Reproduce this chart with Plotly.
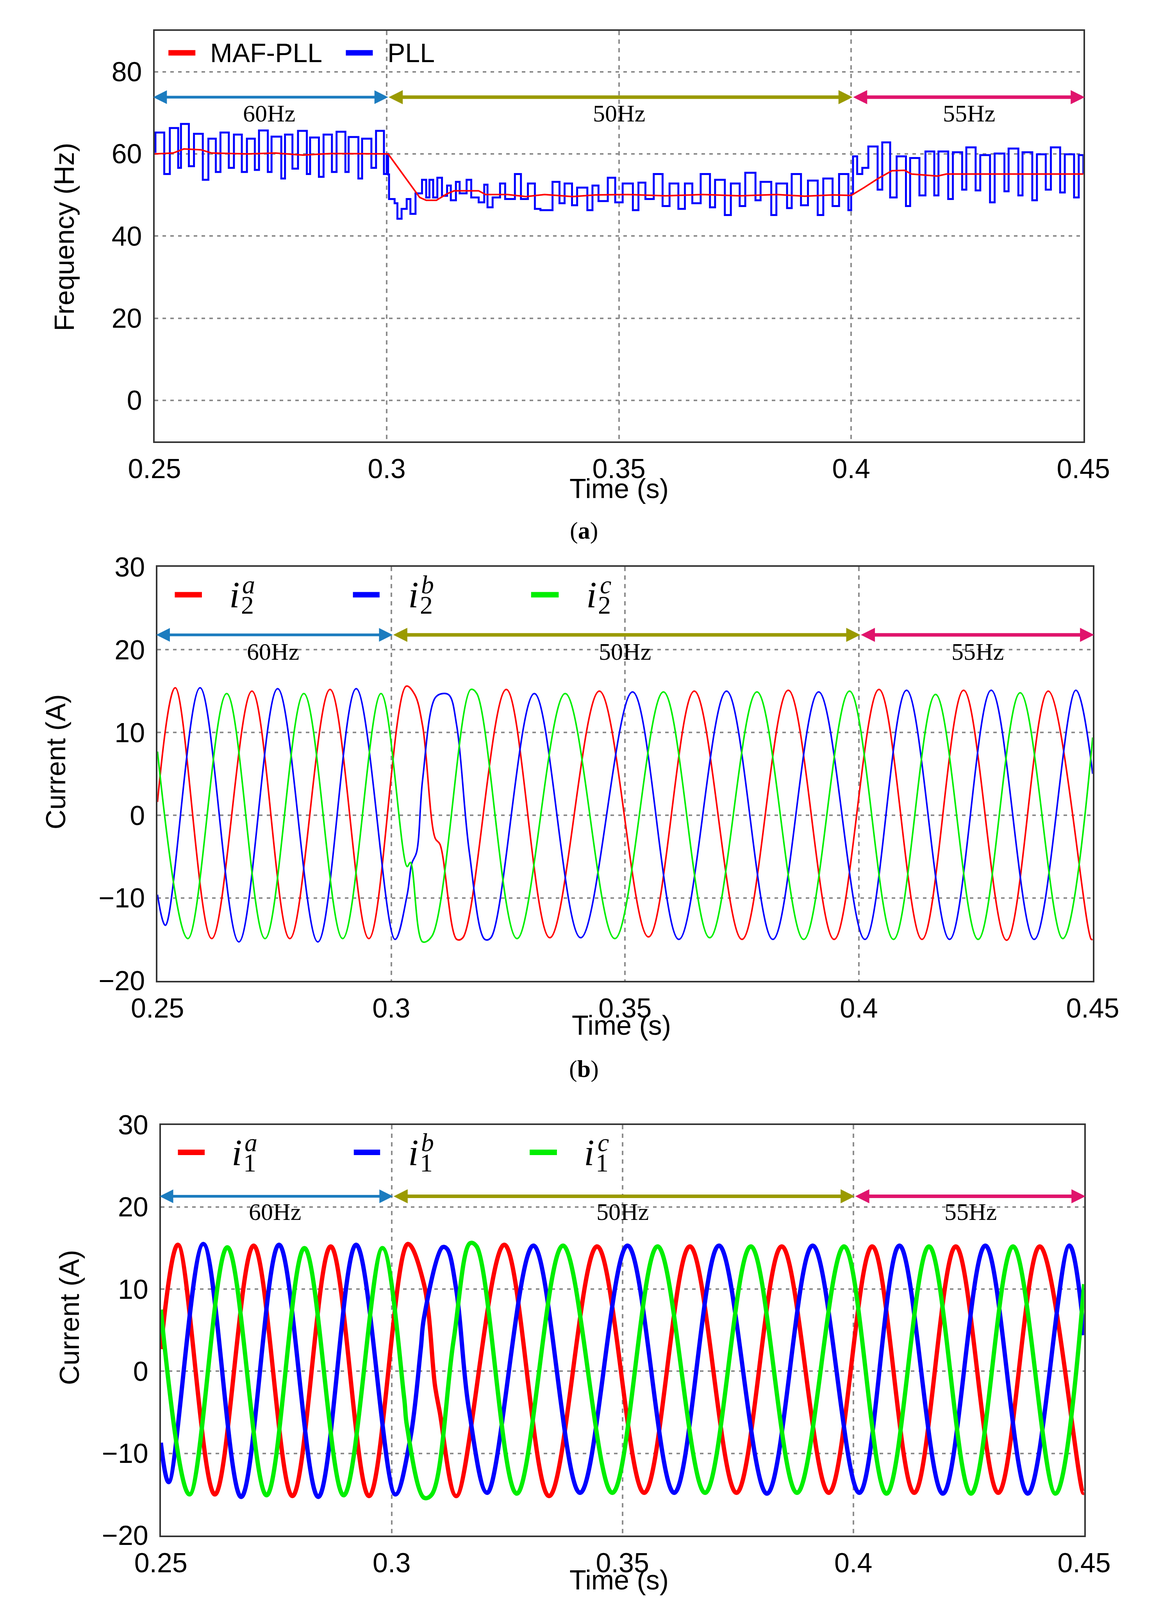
import plotly.graph_objects as go

W, H = 2952, 5688

# ---------------- data ----------------
# (a) frequency estimates
freq_t_maf = [0.2500, 0.2540, 0.2563, 0.2600, 0.2623, 0.2700, 0.2760, 0.2820, 0.2880, 0.2950,
              0.3003, 0.3071, 0.3085, 0.3107, 0.3130, 0.3145, 0.3198, 0.3213, 0.3260, 0.3300,
              0.3340, 0.3400, 0.3450, 0.3520, 0.3600, 0.3680, 0.3760, 0.3840, 0.3900, 0.3960,
              0.4000, 0.4028, 0.4058, 0.4088, 0.4115, 0.4130, 0.4171, 0.4186, 0.4205, 0.4500]
freq_maf = [60.0, 60.2, 61.2, 61.0, 60.2, 60.0, 60.2, 59.7, 60.1, 60.0,
            60.0, 49.4, 48.7, 48.7, 50.3, 51.0, 51.0, 50.1, 50.1, 49.6,
            50.1, 49.6, 50.0, 50.1, 49.8, 50.1, 49.8, 50.1, 49.7, 50.0,
            49.9, 51.8, 54.0, 55.9, 56.0, 55.1, 54.8, 54.6, 55.1, 55.1]

freq_t_pll = [0.2500, 0.2502, 0.2521, 0.2533, 0.2551, 0.2557, 0.2574, 0.2585, 0.2604, 0.2616,
              0.2632, 0.2642, 0.2660, 0.2671, 0.2688, 0.2699, 0.2716, 0.2725, 0.2744, 0.2752,
              0.2773, 0.2781, 0.2797, 0.2809, 0.2828, 0.2835, 0.2854, 0.2864, 0.2882, 0.2892,
              0.2911, 0.2918, 0.2939, 0.2947, 0.2967, 0.2977, 0.2994, 0.3000, 0.3003, 0.3005,
              0.3017, 0.3023, 0.3032, 0.3043, 0.3051, 0.3062, 0.3076, 0.3085, 0.3092, 0.3100,
              0.3109, 0.3119, 0.3130, 0.3138, 0.3149, 0.3157, 0.3172, 0.3182, 0.3198, 0.3210,
              0.3217, 0.3228, 0.3244, 0.3255, 0.3276, 0.3289, 0.3304, 0.3319, 0.3331, 0.3357,
              0.3372, 0.3383, 0.3399, 0.3410, 0.3432, 0.3443, 0.3456, 0.3476, 0.3492, 0.3508,
              0.3530, 0.3542, 0.3557, 0.3575, 0.3594, 0.3609, 0.3628, 0.3642, 0.3658, 0.3676,
              0.3696, 0.3707, 0.3728, 0.3741, 0.3760, 0.3772, 0.3794, 0.3805, 0.3828, 0.3839,
              0.3862, 0.3872, 0.3892, 0.3907, 0.3928, 0.3940, 0.3960, 0.3974, 0.3994, 0.4000,
              0.4004, 0.4013, 0.4024, 0.4037, 0.4057, 0.4067, 0.4084, 0.4098, 0.4118, 0.4127,
              0.4147, 0.4160, 0.4179, 0.4188, 0.4209, 0.4219, 0.4239, 0.4248, 0.4268, 0.4278,
              0.4299, 0.4309, 0.4330, 0.4339, 0.4360, 0.4369, 0.4390, 0.4400, 0.4419, 0.4430,
              0.4450, 0.4460, 0.4480, 0.4490, 0.4500]
freq_pll = [60.5, 65.2, 55.1, 66.3, 56.6, 67.3, 57.0, 64.9, 53.7, 63.7,
            55.6, 65.2, 56.6, 64.7, 55.6, 63.7, 56.1, 65.7, 55.6, 64.2,
            54.0, 64.7, 56.4, 65.6, 55.1, 64.0, 54.4, 64.7, 55.6, 65.4,
            55.6, 64.1, 54.0, 63.7, 56.6, 65.6, 55.1, 60.0, 55.0, 49.0,
            48.0, 44.2, 46.6, 49.0, 45.4, 50.4, 53.7, 49.4, 53.7, 49.4,
            54.2, 49.8, 52.3, 48.7, 53.2, 50.4, 53.7, 49.4, 48.2, 52.5,
            47.0, 49.4, 52.8, 49.0, 55.1, 49.0, 52.8, 46.6, 46.3, 53.2,
            48.0, 52.8, 47.5, 51.8, 46.3, 52.3, 48.5, 54.2, 48.2, 52.8,
            46.3, 53.0, 49.0, 55.1, 47.3, 52.8, 46.6, 52.8, 48.0, 55.1,
            47.0, 53.7, 45.1, 52.8, 47.3, 55.4, 48.7, 53.2, 45.1, 52.8,
            46.8, 55.1, 47.5, 53.5, 45.1, 54.0, 47.3, 55.1, 46.3, 50.4,
            59.4, 55.1, 56.6, 61.8, 51.3, 62.8, 49.4, 59.4, 47.3, 59.0,
            49.9, 60.6, 49.9, 60.6, 49.0, 60.4, 51.3, 61.6, 51.1, 59.7,
            48.2, 60.1, 50.9, 61.3, 49.9, 60.4, 48.7, 59.9, 51.3, 61.6,
            50.6, 59.9, 49.4, 59.7, 55.1]

# (b) grid-side currents i2 (extrema and bends)
i2a_t = [0.2500, 0.2538, 0.2616, 0.2702, 0.2783, 0.2869, 0.2952, 0.3032, 0.3050, 0.3067,
         0.3094, 0.3104, 0.3140, 0.3153, 0.3246, 0.3339, 0.3445, 0.3550, 0.3648, 0.3750,
         0.3849, 0.3947, 0.4043, 0.4135, 0.4224, 0.4316, 0.4405, 0.4497, 0.4500]
i2a = [1.6, 15.4, -14.9, 15.0, -14.9, 15.2, -14.9, 15.6, 14.6, 10.8,
       -2.8, -3.5, -15.0, -14.8, 15.2, -14.8, 15.0, -14.7, 15.0, -15.0,
       15.1, -15.0, 15.2, -15.0, 15.1, -15.1, 15.0, -15.0, -15.0]
i2b_t = [0.2500, 0.2517, 0.2591, 0.2674, 0.2757, 0.2843, 0.2925, 0.3008, 0.3034, 0.3044,
         0.3054, 0.3067, 0.3094, 0.3110, 0.3124, 0.3140, 0.3167, 0.3200, 0.3213, 0.3306,
         0.3405, 0.3516, 0.3615, 0.3717, 0.3816, 0.3914, 0.4013, 0.4102, 0.4194, 0.4283,
         0.4375, 0.4464, 0.4500]
i2b = [-9.6, -13.3, 15.4, -15.3, 15.3, -15.3, 15.3, -15.0, -9.6, -5.8,
       -4.5, 4.3, 14.2, 14.7, 14.5, 10.8, -4.5, -15.0, -14.8, 14.7,
       -14.8, 14.9, -15.0, 15.0, -15.0, 14.9, -15.0, 15.1, -15.0, 15.1,
       -15.0, 15.1, 5.0]
i2c_t = [0.2500, 0.2565, 0.2648, 0.2730, 0.2813, 0.2896, 0.2978, 0.3034, 0.3041, 0.3067,
         0.3087, 0.3170, 0.3183, 0.3269, 0.3372, 0.3478, 0.3582, 0.3681, 0.3782, 0.3882,
         0.3980, 0.4074, 0.4164, 0.4255, 0.4345, 0.4436, 0.4500]
i2c = [7.7, -14.9, 14.7, -14.9, 14.7, -14.9, 14.7, -6.2, -5.7, -15.3,
       -14.6, 15.2, 14.7, -14.9, 14.7, -14.9, 14.9, -14.8, 14.9, -15.0,
       15.0, -15.0, 14.6, -15.0, 14.8, -14.9, 9.4]

# (c) inverter-side currents i1
i1a_t = [0.2500, 0.2537, 0.2617, 0.2701, 0.2785, 0.2868, 0.2951, 0.3035, 0.3070, 0.3094,
         0.3104, 0.3140, 0.3244, 0.3341, 0.3445, 0.3547, 0.3646, 0.3747, 0.3845, 0.3947,
         0.4041, 0.4132, 0.4222, 0.4314, 0.4404, 0.4498, 0.4500]
i1a = [2.7, 15.4, -15.0, 15.3, -15.2, 15.2, -15.2, 15.5, 10.6, -1.8,
       -4.9, -15.2, 15.4, -15.2, 15.2, -14.8, 15.2, -14.8, 15.2, -14.8,
       15.2, -14.8, 15.2, -14.8, 15.2, -14.8, -14.8]
i1b_t = [0.2500, 0.2517, 0.2592, 0.2674, 0.2756, 0.2841, 0.2923, 0.3008, 0.3040, 0.3063,
         0.3070, 0.3110, 0.3120, 0.3140, 0.3167, 0.3207, 0.3307, 0.3408, 0.3511, 0.3612,
         0.3709, 0.3813, 0.3912, 0.4013, 0.4100, 0.4194, 0.4286, 0.4378, 0.4468, 0.4500]
i1b = [-8.7, -13.5, 15.5, -15.3, 15.4, -15.3, 15.4, -15.0, -8.3, 2.7,
       6.5, 15.1, 14.9, 9.9, -4.5, -14.8, 15.3, -14.8, 15.3, -14.8,
       15.3, -14.9, 15.3, -14.8, 15.3, -14.9, 15.3, -14.9, 15.3, 4.4]
i1c_t = [0.2500, 0.2562, 0.2644, 0.2729, 0.2811, 0.2896, 0.2980, 0.3027, 0.3033, 0.3070,
         0.3087, 0.3134, 0.3170, 0.3184, 0.3271, 0.3371, 0.3478, 0.3576, 0.3679, 0.3778,
         0.3878, 0.3980, 0.4072, 0.4164, 0.4255, 0.4346, 0.4438, 0.4500]
i1c = [7.5, -15.0, 15.1, -15.1, 15.0, -15.1, 15.0, -3.2, -6.6, -15.4,
       -15.0, 3.7, 15.6, 15.2, -14.9, 15.3, -14.8, 15.2, -14.8, 15.2,
       -14.8, 15.2, -14.9, 15.2, -14.9, 15.2, -14.9, 10.6]

# (d) capacitor voltages vc
vca_t = [0.2500, 0.2512, 0.2533, 0.2547, 0.2564, 0.2574, 0.2584, 0.2595, 0.2615, 0.2633,
         0.2643, 0.2657, 0.2667, 0.2681, 0.2701, 0.2715, 0.2732, 0.2749, 0.2763, 0.2784,
         0.2801, 0.2818, 0.2832, 0.2849, 0.2866, 0.2880, 0.2904, 0.2918, 0.2931, 0.2952,
         0.2969, 0.2986, 0.2997, 0.3007, 0.3021, 0.3045, 0.3144, 0.3247, 0.3347, 0.3446,
         0.3551, 0.3650, 0.3749, 0.3844, 0.3943, 0.4038, 0.4064, 0.4081, 0.4091, 0.4130,
         0.4153, 0.4166, 0.4180, 0.4222, 0.4242, 0.4259, 0.4272, 0.4311, 0.4331, 0.4351,
         0.4364, 0.4403, 0.4423, 0.4443, 0.4456, 0.4492, 0.4500]
vca = [50, 106, 184, 171, 89, 41, -80, -123, -179, -162,
       -89, -24, 84, 106, 181, 166, 84, -80, -119, -175,
       -162, -41, 63, 123, 181, 166, 45, -80, -123, -175,
       -158, -45, 19, 84, 136, 179, -175, 179, -177, 179,
       -179, 179, -177, 179, -177, 181, 158, 41, -67, -177,
       -153, -37, 89, 177, 158, 63, -67, -175, -153, -32,
       84, 184, 158, 41, -67, -177, -175]
vcb_t = [0.2500, 0.2512, 0.2523, 0.2533, 0.2547, 0.2560, 0.2571, 0.2588, 0.2602, 0.2615,
         0.2629, 0.2639, 0.2650, 0.2674, 0.2694, 0.2708, 0.2718, 0.2739, 0.2753, 0.2766,
         0.2787, 0.2801, 0.2818, 0.2839, 0.2856, 0.2876, 0.2890, 0.2904, 0.2921, 0.2938,
         0.2959, 0.2979, 0.2990, 0.3007, 0.3113, 0.3213, 0.3309, 0.3412, 0.3515, 0.3617,
         0.3712, 0.3814, 0.3913, 0.4009, 0.4028, 0.4045, 0.4061, 0.4078, 0.4097, 0.4117,
         0.4137, 0.4153, 0.4189, 0.4209, 0.4226, 0.4245, 0.4259, 0.4282, 0.4301, 0.4321,
         0.4338, 0.4370, 0.4390, 0.4407, 0.4423, 0.4443, 0.4459, 0.4482, 0.4500]
vcb = [-184, -177, -170, -45, 63, 93, 140, 194, 179, 106,
       41, -24, -123, -190, -175, -45, 63, 136, 197, 179,
       93, -24, -123, -192, -171, -24, 63, 127, 194, 175,
       63, -89, -132, -188, 190, -188, 190, -190, 188, -188,
       190, -190, 192, -194, -132, -45, 63, 140, 194, 166,
       45, -67, -197, -162, -32, 97, 140, 194, 166, 41,
       -89, -192, -153, -32, 84, 140, 197, 166, 84]
vcc_t = [0.2500, 0.2505, 0.2516, 0.2526, 0.2536, 0.2560, 0.2578, 0.2595, 0.2612, 0.2629,
         0.2646, 0.2660, 0.2674, 0.2694, 0.2725, 0.2746, 0.2767, 0.2784, 0.2797, 0.2811,
         0.2825, 0.2842, 0.2863, 0.2894, 0.2914, 0.2931, 0.2949, 0.2962, 0.2979, 0.2997,
         0.3010, 0.3027, 0.3048, 0.3079, 0.3182, 0.3278, 0.3381, 0.3481, 0.3584, 0.3683,
         0.3782, 0.3884, 0.3982, 0.4071, 0.4094, 0.4111, 0.4127, 0.4163, 0.4186, 0.4206,
         0.4219, 0.4252, 0.4272, 0.4291, 0.4308, 0.4341, 0.4361, 0.4384, 0.4400, 0.4433,
         0.4453, 0.4469, 0.4482, 0.4500]
vcc = [149, 110, 63, 37, -80, -192, -171, -67, 84, 140,
       194, 175, 97, -76, -192, -171, -50, 84, 140, 194,
       175, 89, -84, -192, -166, -37, 80, 136, 192, 171,
       114, 63, -67, -190, 188, -188, 192, -188, 190, -188,
       192, -188, 188, -190, -89, 19, 97, 188, 158, 37,
       -67, -190, -166, -24, 89, 192, 166, 41, -89, -190,
       -171, -67, 41, 97]

time_ticks = [0.25, 0.3, 0.35, 0.4, 0.45]
time_tick_text = ['0.25', '0.3', '0.35', '0.4', '0.45']
region_edges = [0.25, 0.3, 0.4, 0.45]
region_labels = ['60Hz', '50Hz', '55Hz']
region_label_t = [0.2747, 0.3500, 0.4254]

# ---------------- styling ----------------
RED, BLUE, GREEN = '#ff0000', '#0000ff', '#00ee00'
ARROW_COLORS = ['#1c7cbf', '#9a9a00', '#e0146c']
SANS = 'Liberation Sans, Arial, sans-serif'
SERIF = 'Liberation Serif, Times New Roman, serif'

# plot boxes in px: left, right, top, bottom
boxes = [(335, 2828, 33, 1099), (343, 2853, 1425, 2499),
         (352, 2830, 2873, 3939), (329, 2838, 4289, 5365)]
yranges = [[-10, 90], [-20, 30], [-20, 30], [-281, 353]]
arrow_y = [73.8, 21.8, 21.3, 262]
label_y = [69.9, 19.8, 19.4, 238]
ytitles = ['Frequency (Hz)', 'Current (A)', 'Current (A)', 'Voltage (V)']
ytitle_pos = [(94, 569), (70, 1931), (107, 3373), (98, 4797)]
xtitle_pos = [(1582, 1222), (1588, 2615), (1582, 4055), (1578, 5495)]
letter_pos = [(1488, 1331), (1488, 2728), (1488, 4226), (1488, 5611)]
letters = ['a', 'b', 'c', 'd']

fig = go.Figure()


def add_line(x, y, color, width, k, shape='spline'):
    assert len(x) == len(y)
    fig.add_trace(go.Scatter(
        x=x, y=y, mode='lines', showlegend=False, hoverinfo='skip',
        line=dict(color=color, width=width, shape=shape, smoothing=1.0),
        xaxis='x' if k == 1 else 'x%d' % k, yaxis='y' if k == 1 else 'y%d' % k))


def note(**kw):
    # annotations are centred on their point unless told otherwise
    d = dict(showarrow=False, xanchor='center', yanchor='middle')
    d.update(kw)
    return d


add_line(freq_t_pll, freq_pll, BLUE, 5, 1, shape='hv')
add_line(freq_t_maf, freq_maf, RED, 4, 1, shape='linear')

add_line(i2a_t, i2a, RED, 4, 2)
add_line(i2b_t, i2b, BLUE, 4, 2)
add_line(i2c_t, i2c, GREEN, 4, 2)

add_line(i1a_t, i1a, RED, 11, 3)
add_line(i1b_t, i1b, BLUE, 11, 3)
add_line(i1c_t, i1c, GREEN, 11, 3)

add_line(vca_t, vca, RED, 4, 4)
add_line(vcb_t, vcb, BLUE, 4, 4)
add_line(vcc_t, vcc, GREEN, 4, 4)

layout = dict(width=W, height=H, margin=dict(l=0, r=0, t=0, b=0),
              paper_bgcolor='white', plot_bgcolor='white', showlegend=False)
annotations = []
shapes = []

for k in range(1, 5):
    l, r, top, bot = boxes[k - 1]
    sx = '' if k == 1 else str(k)
    xa, ya = 'x' + sx, 'y' + sx
    layout['xaxis' + sx] = dict(
        domain=[l / W, r / W], anchor=ya, range=[0.25, 0.45],
        tickvals=time_ticks, ticktext=time_tick_text,
        showline=True, mirror=True, linecolor='#333', linewidth=4,
        showgrid=True, gridcolor='#8c8c8c', gridwidth=4, griddash='11px,11px',
        zeroline=False, ticks='', ticklabelstandoff=6,
        tickfont=dict(family=SANS, size=70, color='black'))
    ydict = dict(
        domain=[(H - bot) / H, (H - top) / H], anchor=xa, range=yranges[k - 1],
        showline=True, mirror=True, linecolor='#333', linewidth=4,
        showgrid=True, gridcolor='#8c8c8c', gridwidth=4, griddash='9px,11px',
        zeroline=False, ticks='', ticklabelstandoff=14,
        tickfont=dict(family=SANS, size=70, color='black'))
    if k == 1:
        ydict.update(tick0=0, dtick=20)
    elif k in (2, 3):
        ydict.update(tick0=0, dtick=10)
    else:
        ydict.update(tickvals=[-200, 0, 200], ticktext=['\u2212200', '0', ''])
    layout['yaxis' + sx] = ydict

    # frequency region arrows and labels
    for j in range(3):
        t0, t1 = region_edges[j], region_edges[j + 1]
        annotations.append(dict(
            x=t1 + 0.0003, y=arrow_y[k - 1], ax=t0 + 0.0003 if j else t0 - 0.0004,
            ay=arrow_y[k - 1], xref=xa, yref=ya, axref=xa, ayref=ya, text='',
            showarrow=True, arrowhead=2, startarrowhead=2, arrowside='end+start',
            arrowwidth=7 if j == 0 else 9, arrowsize=1.0 if j == 0 else 0.8,
            startarrowsize=1.0 if j == 0 else 0.8, arrowcolor=ARROW_COLORS[j],
            standoff=0, startstandoff=0))
        annotations.append(note(
            x=region_label_t[j], y=label_y[k - 1], xref=xa, yref=ya, text=region_labels[j],
            font=dict(family=SERIF, size=62, color='black')))

    px_, py_ = ytitle_pos[k - 1]
    annotations.append(note(x=px_ / W, y=1 - py_ / H, xref='paper', yref='paper',
                            text=ytitles[k - 1], textangle=-90,
                            font=dict(family=SANS, size=70, color='black')))
    px_, py_ = xtitle_pos[k - 1]
    annotations.append(note(x=px_ / W, y=1 - py_ / H, xref='paper', yref='paper',
                            text='Time (s)', font=dict(family=SANS, size=70, color='black')))
    px_, py_ = letter_pos[k - 1]
    annotations.append(note(x=px_ / W, y=1 - py_ / H, xref='paper', yref='paper',
                            text='(<b>%s</b>)' % letters[k - 1],
                            font=dict(family=SERIF, size=62, color='black')))

# the "200" label of panel (d) sits above its grid line in the original
annotations.append(note(x=0, y=248, xref='x4 domain', yref='y4', text='200', xanchor='right',
                        xshift=-14, font=dict(family=SANS, size=70, color='black')))

# hand-drawn legends
legend_y = [0.946, 0.933, 0.933, 0.939]
sample_x = [(0.0185, 0.0475), (0.209, 0.2375), (0.3995, 0.4290)]
colors = [RED, BLUE, GREEN]
for k in range(1, 5):
    sx = '' if k == 1 else str(k)
    xd, yd = 'x%s domain' % sx, 'y%s domain' % sx
    yl = legend_y[k - 1]
    n = 2 if k == 1 else 3
    for j in range(n):
        x0, x1 = sample_x[j]
        if k == 1:
            x0, x1 = [(0.015, 0.044), (0.206, 0.235)][j]
        shapes.append(dict(type='line', xref=xd, yref=yd, x0=x0, x1=x1, y0=yl, y1=yl,
                           line=dict(color=[RED, BLUE][j] if k == 1 else colors[j], width=14)))

annotations.append(note(x=0.059, y=0.946, xref='x domain', yref='y domain', text='MAF-PLL',
                        xanchor='left', font=dict(family=SANS, size=68, color='black')))
annotations.append(note(x=0.25, y=0.946, xref='x domain', yref='y domain', text='PLL',
                        xanchor='left', font=dict(family=SANS, size=68, color='black')))

math_x = [0.0825, 0.2737, 0.4640]
sym_info = {2: ('i', '2', False), 3: ('i', '1', False), 4: ('v', 'c', True)}
for k in (2, 3, 4):
    main, sub, sub_it = sym_info[k]
    xd, yd = 'x%d domain' % k, 'y%d domain' % k
    yl = legend_y[k - 1]
    for j, ph in enumerate(['a', 'b', 'c']):
        xm = math_x[j] - (0.002 if k == 4 else 0)
        annotations.append(note(x=xm, y=yl, xref=xd, yref=yd, text='<i>%s</i>' % main,
                                font=dict(family=SERIF, size=96, color='black')))
        annotations.append(note(x=xm, y=yl, xref=xd, yref=yd, text='<i>%s</i>' % ph,
                                xshift=36, yshift=26,
                                font=dict(family=SERIF, size=66, color='black')))
        annotations.append(note(x=xm, y=yl, xref=xd, yref=yd,
                                text=('<i>%s</i>' % sub) if sub_it else sub,
                                xshift=33, yshift=-26,
                                font=dict(family=SERIF, size=66, color='black')))

layout['annotations'] = annotations
layout['shapes'] = shapes
fig.update_layout(**layout)
fig.write_html('out.html')
